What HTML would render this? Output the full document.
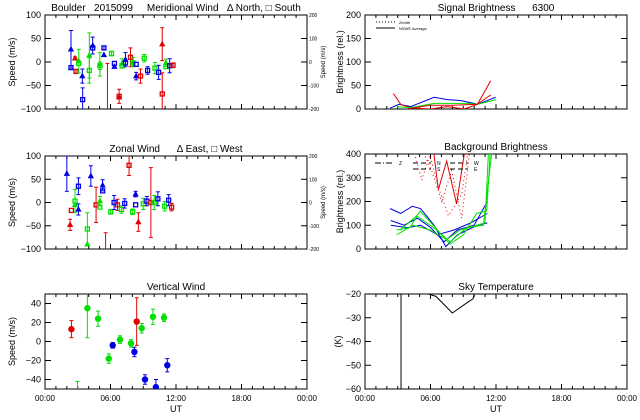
<!DOCTYPE html>
<html><head><meta charset="utf-8">
<style>
body{margin:0;background:#fff;}
svg{display:block;font-family:"Liberation Sans",sans-serif;}
text{white-space:pre;}
</style></head>
<body>
<svg id="c" width="640" height="420" viewBox="0 0 640 420" xmlns="http://www.w3.org/2000/svg"></svg>
<script>
// ---- data (hour, value, error, color, shape) ----
const merHours=[2.38,2.38,2.75,2.84,3.09,3.09,3.42,3.45,4.06,4.06,4.37,4.37,5.03,5.03,5.40,5.40,5.72,6.09,6.36,6.36,6.79,6.79,7.06,7.06,7.37,7.37,7.83,8.07,8.07,8.35,8.35,8.75,9.09,9.40,10.07,10.41,10.74,10.74,11.08,11.08,11.42,11.73];
const merValues=[27,-12,8,-20,2,-3,-30,-80,14,-18,35,30,-5,-8,30,15,-100,18,-3,-10,-73,-75,-8,-3,5,-2,10,0,-2,-30,-5,-30,8,-18,-13,-22,38,-68,-2,-10,-8,-7];
const merErrors=[40,0,3,4,25,0,15,25,48,27,18,0,25,8,4,0,97,5,0,0,15,0,0,10,15,0,20,10,0,8,0,15,8,8,12,15,35,45,8,0,15,5];
const merColors="bbrrggbbggbbggbbrgbbrrggbbrggbbrgbgbrrggbr";
const merShapes="tststststststsst"+"rsststst"+"tsststss"+"sssststsss";

const zonHours=[2.0,2.3,2.42,2.75,2.75,3.06,3.06,3.88,3.88,4.2,4.68,5.03,5.03,5.28,5.28,5.55,6.02,6.33,6.64,7.0,7.3,7.7,8.03,8.3,8.3,8.55,9.0,9.33,9.7,10.0,10.34,10.96,11.33,11.6];
const zonValues=[62,-48,-17,3,-5,35,-15,-57,-90,57,-5,3,-10,37,25,-100,-20,0,-5,-15,-2,80,-20,18,-5,-42,-3,3,0,0,8,-8,5,-10];
const zonErrors=[38,12,0,25,0,18,12,35,0,22,38,10,0,12,0,35,5,15,12,8,10,22,6,6,0,20,12,10,75,15,15,10,12,8];
const zonColors="brrggbbggbrggbbrgbrgbrgbbrgbrgbgbr";
const zonShapes="ttsststs"+"tt"+"ststsr"+"ssssssst"+"stssssssss";

const verHours=[2.42,2.97,3.88,4.86,5.84,6.2,6.87,7.88,8.19,8.4,8.86,9.16,9.89,10.16,10.9,11.2];
const verValues=[13,-60,35,24,-18,-4,2,-2,-11,21,14,-40,26,-48,25,-25];
const verErrors=[9,18,31,8,5,3,4,4,5,25,5,5,8,8,4,7];
const verColors="rggggbggbrgbgbgb";

const sigBlueH=[2.3,3.12,4.19,6.33,7.55,8.77,10.3,11.21,11.97];
const sigBlueV=[2,10,5,25,20,18,10,18,25];
const sigRedH=[2.6,3.27,4.19,6.02,7.55,9.08,10.3,11.52];
const sigRedV=[33,10,2,0,5,0,10,60];
const sigGreenH=[2.9,4.19,6.33,8.16,9.38,10.3,12.03];
const sigGreenV=[5,3,12,12,12,10,20];
const sigRed2H=[3.82,5.95,8.1,10.3,11.52];
const sigRed2V=[0,8,8,10,30];

const bgSeriesH=[
 [2.3,3.27,4.34,5.1,6.33,7.4,8.47,9.38,10.3,11.21],
 [2.36,3.58,4.8,6.02,7.24,8.47,9.99,11.21],
 [2.36,3.88,5.1,6.63,8.16,9.69,11.21],
 [2.9,4.12,5.04,6.26,7.79,9.01,10.23,11.15,11.46],
 [2.9,4.43,5.95,7.48,8.7,10.23,10.99,11.3],
 [3.21,4.74,6.57,7.79,9.32,10.84,11.6],
 [4.43,5.2,6.11],
 [6.26,6.72,7.48,8.39,9.16],
 [5.2,6.11,7.03,7.94,8.86,9.62],
 [5.81,6.72,7.64,8.86,9.47]];
const bgSeriesV=[
 [170,150,180,170,100,10,60,80,100,110],
 [120,100,130,90,30,80,100,200],
 [100,90,100,60,80,110,150],
 [80,90,160,100,20,60,150,160,400],
 [60,100,80,40,80,100,110,400],
 [80,140,80,30,90,100,400],
 [420,290,420],
 [420,250,370,190,420],
 [420,330,200,330,130,420],
 [420,260,140,230,420]];
const bgColors="bbbgggrrrr";
const bgDash=[0,0,0,0,0,0,1,0,1,1];

const skyH=[5.8,6.5,8.0,9.4,9.9,10.0];
const skyV=[-20,-21,-28,-23.5,-22,-20];
const skyCutH=3.3;

const timeTicks=["00:00","06:00","12:00","18:00","00:00"];
const windTicks=[100,50,0,-50,-100];
const windTicksR=["200","100","0","-100","-200"];
const vertTicks=[40,20,0,-20,-40];
const sigTicks=[200,150,100,50,0];
const bgTicks=[400,300,200,100,0];
const skyTicks=[-20,-30,-40,-50,-60];

// ---- drawing ----
const svg=document.getElementById('c');
const NS="http://www.w3.org/2000/svg";
const COL={b:"#0000e0",r:"#e00000",g:"#00e000"};
function mk(tag,at,parent){const e=document.createElementNS(NS,tag);for(const k in at)e.setAttribute(k,at[k]);(parent||svg).appendChild(e);return e;}
function txt(s,x,y,size,anchor,parent,rot){const t=mk('text',{x:x,y:y,'font-size':size,'text-anchor':anchor||'middle',fill:'#000'},parent);if(rot)t.setAttribute('transform','rotate(-90 '+x+' '+y+')');t.textContent=s;return t;}

function panel(name,x0,y0,x1,y1,ymin,ymax,yticks,title,ylab,showX,ylx){
  const g=mk('g',{});
  
  
  const P={g:g,sx:h=>x0+h/24*(x1-x0),sy:v=>y1-(v-ymin)/(ymax-ymin)*(y1-y0),x0,y0,x1,y1};
  const fr=mk('rect',{x:x0,y:y0,width:x1-x0,height:y1-y0,fill:'none',stroke:'#000','stroke-width':1},g);
  
  
  for(let h=0;h<=24;h++){const x=P.sx(h);const L=(h%6==0)?5:3;
    mk('line',{x1:x,y1:y1,x2:x,y2:y1-L,stroke:'#000'},g);mk('line',{x1:x,y1:y0,x2:x,y2:y0+L,stroke:'#000'},g);}
  yticks.forEach(v=>{const y=P.sy(v);
    mk('line',{x1:x0,y1:y,x2:x0+6,y2:y,stroke:'#000'},g);mk('line',{x1:x1,y1:y,x2:x1-6,y2:y,stroke:'#000'},g);
    const t=txt(String(v).replace('-','−'),x0-4,y+3,9,'end',g);
    
    });
  const tt=txt(title,(x0+x1)/2,y0-4,10,'middle',g);
  
  
  const yl=txt(ylab,x0-ylx,(y0+y1)/2,9,'middle',g,true);
  
  
  if(showX){timeTicks.forEach((s,i)=>{const t=txt(s,P.sx(i*6),y1+12,8,'middle',g);
    
    });
    const xl=txt('UT',(x0+x1)/2,y1+23,9,'middle',g);
    
    }
  const cp='clip'+name;const cpe=mk('clipPath',{id:cp},g);mk('rect',{x:x0,y:y0,width:x1-x0,height:y1-y0},cpe);
  P.d=mk('g',{'clip-path':'url(#'+cp+')'},g);
  return P;
}
function rightAxis(P,labels){labels.forEach((s,i)=>{const y=P.y0+i*(P.y1-P.y0)/4;
  const t=txt(s,P.x1+2,y+2,5,'start',P.g);
  
  });
  const r=txt('Speed (m/s)',P.x1+18,(P.y0+P.y1)/2,6,'middle',P.g,true);
  
  }

function points(P,H,V,E,C,S,kind){
  for(let i=0;i<H.length;i++){
    const c=COL[C[i]];const x=P.sx(H[i]),y=P.sy(V[i]);const sh=S?S[i]:'c';
    const g=mk('g',{},P.d);
    
    
    if(E[i]>0){const ya=P.sy(V[i]+E[i]),yb=P.sy(V[i]-E[i]);
      mk('line',{x1:x,y1:ya,x2:x,y2:yb,stroke:c,'stroke-width':1},g);
      mk('line',{x1:x-2,y1:ya,x2:x+2,y2:ya,stroke:c,'stroke-width':1},g);
      mk('line',{x1:x-2,y1:yb,x2:x+2,y2:yb,stroke:c,'stroke-width':1},g);}
    if(sh=='t')mk('path',{d:`M${x} ${y-2.5}L${x+2.3} ${y+1.7}L${x-2.3} ${y+1.7}Z`,fill:c,stroke:c,'stroke-width':1},g);
    else if(sh=='s')mk('rect',{x:x-2,y:y-2,width:4,height:4,fill:'none',stroke:c,'stroke-width':1.3},g);
    else if(sh=='c')mk('circle',{cx:x,cy:y,r:3.2,fill:c},g);
  }
}
function line(P,H,V,c,dash,name){
  const p=mk('polyline',{points:H.map((h,i)=>P.sx(h)+','+P.sy(V[i])).join(' '),fill:'none',stroke:c,'stroke-width':1},P.d);
  if(dash)p.setAttribute('stroke-dasharray','1,3');
  
  
}

// meridional
const mer=panel('meridional-panel',45,15,307,109,-100,100,windTicks,'Boulder   2015099     Meridional Wind   \u0394 North, \u25A1 South','Speed (m/s)',false,30);
rightAxis(mer,windTicksR);
points(mer,merHours,merValues,merErrors,merColors,merShapes,'meridional');
// zonal
const zon=panel('zonal-panel',45,156,307,249,-100,100,windTicks,'Zonal Wind      \u0394 East, \u25A1 West','Speed (m/s)',false,30);
rightAxis(zon,windTicksR);
points(zon,zonHours,zonValues,zonErrors,zonColors,zonShapes,'zonal');
// vertical
const ver=panel('vertical-panel',45,294,307,389,-50,50,vertTicks,'Vertical Wind','Speed (m/s)',true,30);
points(ver,verHours,verValues,verErrors,verColors,null,'vertical');
// signal
const sig=panel('signal-panel',365,15,627,109,0,200,sigTicks,'Signal Brightness      6300','Brightness (rel.)',false,22);
line(sig,sigBlueH,sigBlueV,COL.b,0,'signal-blue-line');
line(sig,sigRedH,sigRedV,COL.r,0,'signal-red-line');
line(sig,sigGreenH,sigGreenV,COL.g,0,'signal-green-line');
line(sig,sigRed2H,sigRed2V,COL.r,0,'signal-red2-line');
mk('line',{x1:376,y1:22,x2:395,y2:22,stroke:'#000','stroke-dasharray':'1,2'});
mk('line',{x1:376,y1:28,x2:395,y2:28,stroke:'#000'});
txt('Zenith',399,24,4,'start');txt('NSWE Average',399,30,4,'start');
// background
const bg=panel('background-panel',365,154,627,249,0,400,bgTicks,'Background Brightness','Brightness (rel.)',false,22);
bgSeriesH.forEach((H,i)=>line(bg,H,bgSeriesV[i],COL[bgColors[i]],bgDash[i],'background-line'));
[[397,165,'Z'],[435,165,'N'],[435,171,'S'],[472,165,'W'],[472,171,'E']].forEach(a=>{
  mk('line',{x1:a[0]-22,y1:a[1]-2,x2:a[0]-4,y2:a[1]-2,stroke:'#000','stroke-dasharray':a[2]=='Z'?'6,2,1,2':'5,3'});
  txt(a[2],a[0]+2,a[1],5,'start');});
// sky temp
const sky=panel('sky-temp-panel',365,294,627,389,-60,-20,skyTicks,'Sky Temperature','(K)',true,24);
line(sky,skyH,skyV,'#000',0,'sky-temp-line');
const sx=sky.sx(skyCutH);
const cut=mk('line',{x1:sx,y1:294,x2:sx,y2:389,stroke:'#000','stroke-width':1},sky.d);


</script>
</body></html>
